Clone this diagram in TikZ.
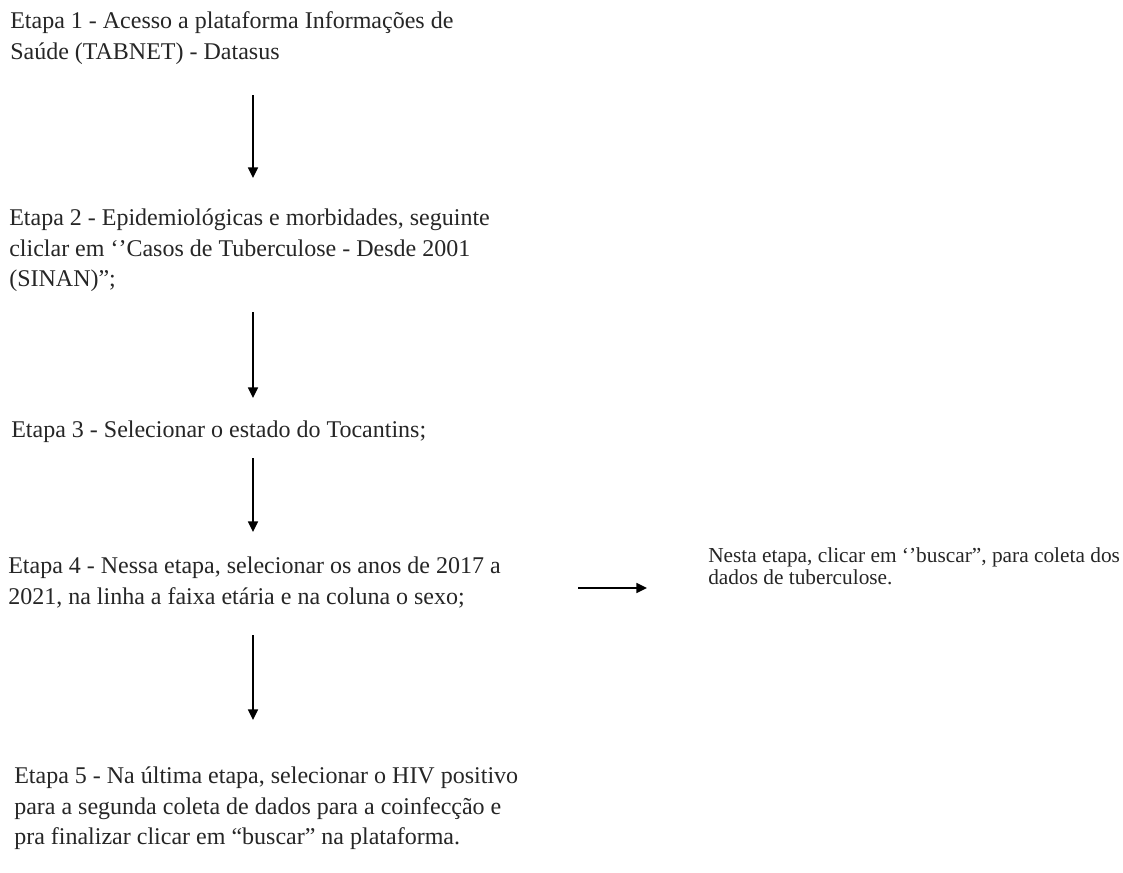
\documentclass[tikz,border=0pt]{standalone}
\usepackage{fontspec}
\setmainfont{Liberation Serif}
\usetikzlibrary{arrows.meta}
\tikzset{
  stepnode/.style={anchor=north west, inner sep=0pt, align=left,
    font=\fontsize{18pt}{23pt}\selectfont, text=black!85},
  notenode/.style={anchor=north west, inner sep=0pt, align=left,
    font=\fontsize{16pt}{16.5pt}\selectfont, text=black!85},
  flow/.style={line width=1.2pt, -{Triangle[width=7.5pt,length=8pt]}}
}
\begin{document}
\begin{tikzpicture}[x=0.75pt,y=-0.75pt]
\useasboundingbox[fill=white] (0,0) rectangle (1123,872);
\node[stepnode] (s1) at (10,11.5) {Etapa 1 - Acesso a plataforma Informações de\\Saúde (TABNET) - Datasus};
\node[stepnode] (s2) at (9,208.5) {Etapa 2 - Epidemiológicas e morbidades, seguinte\\cliclar em ‘’Casos de Tuberculose - Desde 2001\\(SINAN)”;};
\node[stepnode] (s3) at (11,420.5) {Etapa 3 - Selecionar o estado do Tocantins;};
\node[stepnode] (s4) at (8,556.5) {Etapa 4 - Nessa etapa, selecionar os anos de 2017 a\\2021, na linha a faixa etária e na coluna o sexo;};
\node[stepnode] (s5) at (14,766.5) {Etapa 5 - Na última etapa, selecionar o HIV positivo\\para a segunda coleta de dados para a coinfecção e\\pra finalizar clicar em “buscar” na plataforma.};
\node[notenode] (n4) at (708,547) {Nesta etapa, clicar em ‘’buscar”, para coleta dos\\dados de tuberculose.};
\coordinate (a1s) at (253,95);  \coordinate (a1e) at (253,178);
\coordinate (a2s) at (253,312); \coordinate (a2e) at (253,398);
\coordinate (a3s) at (253,458); \coordinate (a3e) at (253,532);
\coordinate (a4s) at (253,635); \coordinate (a4e) at (253,720);
\coordinate (h1s) at (578,588); \coordinate (h1e) at (647,588);
\draw[flow] (a1s) -- (a1e);
\draw[flow] (a2s) -- (a2e);
\draw[flow] (a3s) -- (a3e);
\draw[flow] (a4s) -- (a4e);
\draw[flow] (h1s) -- (h1e);
\end{tikzpicture}
\end{document}
